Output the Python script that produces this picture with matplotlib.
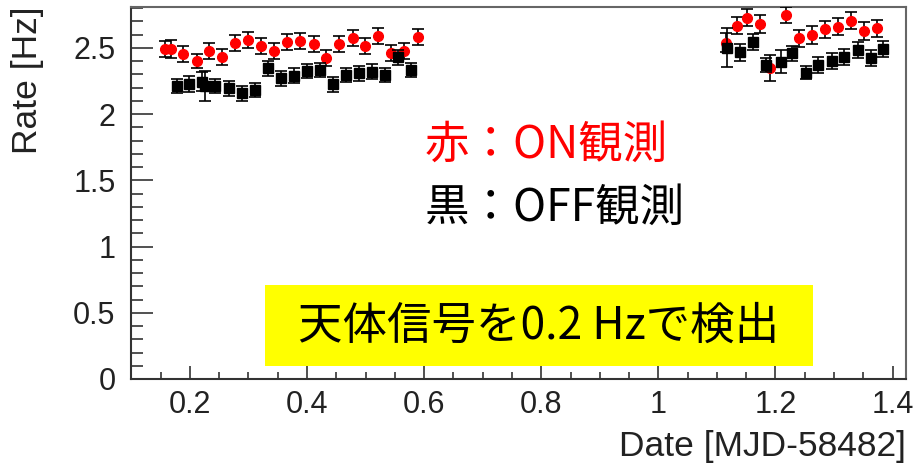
import numpy as np
import matplotlib.pyplot as plt
from matplotlib.patches import Rectangle
from matplotlib.ticker import MultipleLocator

# ON-source observation (red)
on_mjd = [0.1573, 0.1676, 0.1886, 0.2115, 0.2330, 0.2547, 0.2774, 0.2991, 0.3218,
          0.3440, 0.3652, 0.3885, 0.4113, 0.4329, 0.4551, 0.4780, 0.4995, 0.5217,
          0.5434, 0.5661, 0.5890,
          1.1157, 1.1344, 1.1510, 1.1737, 1.1908, 1.2182, 1.2404, 1.2620, 1.2848,
          1.3065, 1.3292, 1.3509, 1.3736]
on_rate = [2.491, 2.491, 2.451, 2.400, 2.478, 2.432, 2.534, 2.558, 2.515,
           2.478, 2.541, 2.553, 2.526, 2.425, 2.528, 2.576, 2.515, 2.589,
           2.458, 2.478, 2.583,
           2.538, 2.666, 2.727, 2.679, 2.345, 2.747, 2.571, 2.596, 2.639,
           2.659, 2.704, 2.626, 2.647]
on_err = [0.06, 0.07, 0.06, 0.05, 0.06, 0.06, 0.06, 0.063, 0.06,
          0.06, 0.06, 0.06, 0.06, 0.06, 0.06, 0.06, 0.06, 0.06,
          0.06, 0.06, 0.06,
          0.07, 0.065, 0.065, 0.065, 0.098, 0.06, 0.065, 0.065, 0.065,
          0.065, 0.065, 0.065, 0.065]

# OFF-source observation (black)
off_mjd = [0.1773, 0.1988, 0.2200, 0.2257, 0.2433, 0.2661, 0.2883, 0.3111, 0.3328,
           0.3555, 0.3777, 0.3994, 0.4216, 0.4448, 0.4660, 0.4887, 0.5104, 0.5331,
           0.5548, 0.5776,
           1.1179, 1.1396, 1.1623, 1.1840, 1.2091, 1.2284, 1.2518, 1.2733, 1.2962,
           1.3177, 1.3406, 1.3634, 1.3843]
off_rate = [2.211, 2.224, 2.244, 2.211, 2.211, 2.194, 2.156, 2.181, 2.345,
            2.269, 2.289, 2.325, 2.332, 2.224, 2.294, 2.307, 2.319, 2.294,
            2.428, 2.332,
            2.500, 2.466, 2.546, 2.370, 2.395, 2.458, 2.312, 2.370, 2.400,
            2.432, 2.483, 2.425, 2.488]
off_err = [0.055, 0.06, 0.07, 0.11, 0.055, 0.055, 0.055, 0.055, 0.055,
           0.055, 0.055, 0.055, 0.055, 0.055, 0.055, 0.055, 0.055, 0.055,
           0.055, 0.055,
           0.147, 0.065, 0.06, 0.05, 0.088, 0.058, 0.05, 0.06, 0.06,
           0.06, 0.06, 0.06, 0.06]

W, H = 913, 474
fig = plt.figure(figsize=(W / 100, H / 100), dpi=100)
ax = fig.add_axes([130.7 / W, 1 - 379 / H, (906 - 130.7) / W, (379 - 6.7) / H])

ax.errorbar(on_mjd, on_rate, yerr=on_err, fmt='o', color='red', ms=7,
            mec='red', ecolor='black', elinewidth=1.2, capsize=4.5,
            capthick=1.2, zorder=3)
ax.errorbar(off_mjd, off_rate, yerr=off_err, fmt='s', color='black', ms=6.8,
            ecolor='black', elinewidth=1.2, capsize=4.5, capthick=1.2,
            zorder=4)

axis_font = ['Liberation Sans', 'DejaVu Sans']
ax.xaxis.set_minor_locator(MultipleLocator(0.05))
ax.yaxis.set_minor_locator(MultipleLocator(0.1))
ax.set_xticks([0.2, 0.4, 0.6, 0.8, 1.0, 1.2, 1.4])
ax.set_xticklabels(['0.2', '0.4', '0.6', '0.8', '1', '1.2', '1.4'])
ax.set_yticks([0, 0.5, 1, 1.5, 2, 2.5])
ax.set_yticklabels(['0', '0.5', '1', '1.5', '2', '2.5'])
ax.set_xlim(0.0988, 1.423)
ax.set_ylim(0, 2.81)

ax.tick_params(axis='both', which='both', direction='in', color='#333333',
               width=1.2, labelsize=22, top=False, right=False)
ax.tick_params(axis='x', which='major', length=9.5, pad=8)
ax.tick_params(axis='x', which='minor', length=5)
ax.tick_params(axis='y', which='major', length=15.5, pad=11)
ax.tick_params(axis='y', which='minor', length=8.5)
for lab in ax.get_xticklabels() + ax.get_yticklabels():
    lab.set_family(axis_font)
    lab.set_color('#222222')

for side in ['left', 'bottom']:
    ax.spines[side].set_color('#333333')
    ax.spines[side].set_linewidth(1.5)
for side in ['top', 'right']:
    ax.spines[side].set_color('#666666')
    ax.spines[side].set_linewidth(1.5)

ax.set_xlabel('Date [MJD-58482]', fontsize=25.5, family=axis_font, loc='right',
              color='#222222')
ax.xaxis.set_label_coords(1.0, -0.137)
ax.set_ylabel('Rate [Hz]', fontsize=25.5, family=axis_font, loc='top',
              color='#222222')
ax.yaxis.set_label_coords(-0.112, 1.0)

# annotations
jp = ['Noto Sans CJK JP', 'DejaVu Sans']
fig.text(425 / W, 1 - 145 / H, '赤：ON観測', color='red', fontsize=32,
         family=jp, ha='left', va='center')
fig.text(425 / W, 1 - 208 / H, '黒：OFF観測', color='black', fontsize=32,
         family=jp, ha='left', va='center')
fig.add_artist(Rectangle((265 / W, 1 - 366 / H), (813 - 265) / W, (366 - 285) / H,
                         transform=fig.transFigure, facecolor='#ffff00',
                         edgecolor='none', zorder=5))
fig.text(539 / W, 1 - 326 / H, '天体信号を0.2 Hzで検出', color='black',
         fontsize=32, family=jp, ha='center', va='center', zorder=6)

fig.savefig('out.png', dpi=100)
